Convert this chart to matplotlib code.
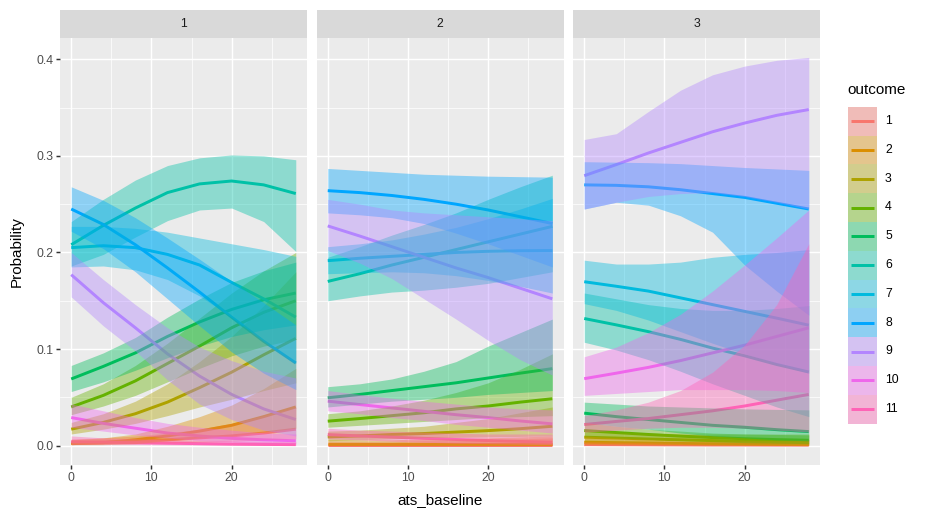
import matplotlib
matplotlib.use("Agg")
import matplotlib.pyplot as plt
from matplotlib.patches import Rectangle

plt.rcParams['font.family'] = ['Liberation Sans', 'DejaVu Sans']

# ---------------- data ----------------
ats_baseline = [0, 4, 8, 12, 16, 20, 24, 28]
outcomes = ['1', '2', '3', '4', '5', '6', '7', '8', '9', '10', '11']
outcome_colors = ['#F8766D', '#DB8E00', '#AEA200', '#64B200', '#00BD5C', '#00C1A7',
                  '#00BADE', '#00A6FF', '#B385FF', '#EF67EB', '#FF63B6']
panel_labels = ['1', '2', '3']

# panel 1
p1_fit = [
    [0.003, 0.0035, 0.0045, 0.006, 0.008, 0.010, 0.013, 0.017],
    [0.002, 0.003, 0.006, 0.010, 0.015, 0.021, 0.030, 0.040],
    [0.017, 0.024, 0.033, 0.045, 0.060, 0.076, 0.094, 0.111],
    [0.040, 0.052, 0.067, 0.085, 0.103, 0.122, 0.138, 0.150],
    [0.069, 0.082, 0.096, 0.113, 0.128, 0.141, 0.151, 0.158],
    [0.208, 0.228, 0.246, 0.262, 0.271, 0.274, 0.270, 0.261],
    [0.205, 0.207, 0.205, 0.198, 0.187, 0.169, 0.152, 0.133],
    [0.245, 0.229, 0.208, 0.184, 0.159, 0.133, 0.108, 0.0855],
    [0.177, 0.148, 0.122, 0.095, 0.072, 0.053, 0.038, 0.027],
    [0.029, 0.023, 0.018, 0.013, 0.010, 0.0075, 0.006, 0.005],
    [0.004, 0.0035, 0.003, 0.0025, 0.002, 0.0015, 0.0012, 0.001],
]
p1_lower = [
    [0.001, 0.0015, 0.002, 0.0025, 0.0035, 0.0045, 0.006, 0.007],
    [0.001, 0.001, 0.002, 0.005, 0.008, 0.010, 0.014, 0.018],
    [0.012, 0.017, 0.023, 0.031, 0.040, 0.048, 0.057, 0.065],
    [0.032, 0.041, 0.052, 0.066, 0.080, 0.093, 0.103, 0.110],
    [0.056, 0.066, 0.078, 0.091, 0.103, 0.113, 0.120, 0.125],
    [0.186, 0.198, 0.216, 0.233, 0.244, 0.246, 0.232, 0.201],
    [0.185, 0.186, 0.182, 0.172, 0.155, 0.133, 0.108, 0.085],
    [0.222, 0.204, 0.180, 0.152, 0.124, 0.097, 0.075, 0.058],
    [0.154, 0.124, 0.098, 0.068, 0.043, 0.027, 0.016, 0.010],
    [0.019, 0.015, 0.011, 0.008, 0.005, 0.0035, 0.0025, 0.002],
    [0.001, 0.001, 0.001, 0.0008, 0.0006, 0.0005, 0.0004, 0.0003],
]
p1_upper = [
    [0.007, 0.008, 0.010, 0.013, 0.017, 0.023, 0.031, 0.040],
    [0.006, 0.008, 0.012, 0.020, 0.030, 0.042, 0.059, 0.080],
    [0.024, 0.033, 0.046, 0.064, 0.087, 0.113, 0.145, 0.180],
    [0.050, 0.064, 0.083, 0.106, 0.132, 0.158, 0.181, 0.200],
    [0.083, 0.096, 0.112, 0.133, 0.152, 0.169, 0.181, 0.190],
    [0.232, 0.255, 0.275, 0.290, 0.298, 0.301, 0.300, 0.296],
    [0.227, 0.227, 0.225, 0.221, 0.215, 0.209, 0.203, 0.196],
    [0.268, 0.254, 0.236, 0.215, 0.193, 0.170, 0.148, 0.125],
    [0.200, 0.172, 0.146, 0.122, 0.102, 0.088, 0.077, 0.070],
    [0.043, 0.036, 0.029, 0.023, 0.019, 0.016, 0.013, 0.012],
    [0.010, 0.008, 0.007, 0.006, 0.005, 0.005, 0.0045, 0.004],
]

# panel 2
p2_fit = [
    [0.001, 0.001, 0.001, 0.001, 0.001, 0.001, 0.001, 0.001],
    [0.002, 0.002, 0.002, 0.002, 0.002, 0.002, 0.002, 0.002],
    [0.009, 0.010, 0.0115, 0.0125, 0.014, 0.0155, 0.0175, 0.020],
    [0.0253, 0.028, 0.031, 0.034, 0.038, 0.041, 0.045, 0.0485],
    [0.0495, 0.053, 0.057, 0.061, 0.065, 0.070, 0.075, 0.0797],
    [0.170, 0.178, 0.187, 0.195, 0.203, 0.211, 0.219, 0.227],
    [0.1915, 0.194, 0.196, 0.198, 0.200, 0.2012, 0.2018, 0.202],
    [0.264, 0.262, 0.259, 0.255, 0.250, 0.244, 0.237, 0.230],
    [0.2275, 0.217, 0.206, 0.195, 0.184, 0.174, 0.163, 0.152],
    [0.046, 0.0425, 0.039, 0.0355, 0.032, 0.029, 0.0255, 0.0225],
    [0.0114, 0.010, 0.0088, 0.0075, 0.0063, 0.0052, 0.0043, 0.0035],
]
p2_lower = [
    [0.0003, 0.0003, 0.0003, 0.0003, 0.0003, 0.0003, 0.0003, 0.0003],
    [0.0005, 0.0005, 0.0005, 0.0005, 0.0005, 0.0005, 0.0005, 0.0005],
    [0.005, 0.006, 0.007, 0.008, 0.0085, 0.009, 0.0095, 0.010],
    [0.019, 0.021, 0.023, 0.025, 0.027, 0.029, 0.030, 0.031],
    [0.040, 0.043, 0.046, 0.048, 0.050, 0.053, 0.055, 0.057],
    [0.150, 0.155, 0.159, 0.161, 0.164, 0.168, 0.174, 0.180],
    [0.178, 0.179, 0.180, 0.179, 0.176, 0.171, 0.165, 0.158],
    [0.241, 0.239, 0.236, 0.230, 0.220, 0.209, 0.197, 0.185],
    [0.202, 0.189, 0.173, 0.152, 0.131, 0.109, 0.089, 0.073],
    [0.036, 0.033, 0.029, 0.026, 0.022, 0.019, 0.016, 0.013],
    [0.007, 0.006, 0.0045, 0.0035, 0.0025, 0.002, 0.0015, 0.001],
]
p2_upper = [
    [0.004, 0.004, 0.004, 0.005, 0.005, 0.006, 0.007, 0.008],
    [0.006, 0.006, 0.006, 0.007, 0.007, 0.008, 0.009, 0.010],
    [0.015, 0.016, 0.018, 0.020, 0.024, 0.028, 0.034, 0.040],
    [0.033, 0.036, 0.041, 0.047, 0.055, 0.065, 0.079, 0.095],
    [0.061, 0.064, 0.069, 0.077, 0.087, 0.103, 0.117, 0.131],
    [0.195, 0.206, 0.218, 0.229, 0.241, 0.255, 0.268, 0.280],
    [0.206, 0.209, 0.213, 0.219, 0.226, 0.235, 0.245, 0.256],
    [0.287, 0.285, 0.283, 0.281, 0.280, 0.279, 0.2785, 0.278],
    [0.255, 0.250, 0.244, 0.241, 0.239, 0.237, 0.235, 0.233],
    [0.057, 0.053, 0.049, 0.046, 0.043, 0.040, 0.038, 0.037],
    [0.018, 0.016, 0.015, 0.014, 0.013, 0.012, 0.012, 0.012],
]

# panel 3
p3_fit = [
    [0.001, 0.0009, 0.0008, 0.0007, 0.0006, 0.0006, 0.0005, 0.0005],
    [0.0035, 0.003, 0.0026, 0.0022, 0.0018, 0.0015, 0.0012, 0.001],
    [0.0087, 0.0078, 0.0068, 0.006, 0.0052, 0.0045, 0.004, 0.0035],
    [0.0156, 0.0135, 0.0115, 0.0098, 0.0083, 0.0071, 0.0062, 0.0055],
    [0.0336, 0.030, 0.027, 0.024, 0.021, 0.019, 0.0165, 0.0145],
    [0.1316, 0.125, 0.118, 0.110, 0.101, 0.093, 0.084, 0.0762],
    [0.1697, 0.165, 0.160, 0.153, 0.146, 0.139, 0.132, 0.1247],
    [0.270, 0.2695, 0.268, 0.265, 0.261, 0.257, 0.251, 0.245],
    [0.2795, 0.291, 0.303, 0.314, 0.325, 0.334, 0.342, 0.348],
    [0.0693, 0.075, 0.081, 0.088, 0.096, 0.104, 0.113, 0.122],
    [0.0218, 0.025, 0.028, 0.032, 0.036, 0.041, 0.047, 0.053],
]
p3_lower = [
    [0.0002, 0.0002, 0.0002, 0.0001, 0.0001, 0.0001, 0.0001, 0.0001],
    [0.001, 0.0009, 0.0007, 0.0005, 0.0004, 0.0003, 0.0002, 0.0002],
    [0.004, 0.0035, 0.003, 0.0022, 0.0016, 0.0012, 0.001, 0.0008],
    [0.010, 0.008, 0.0065, 0.005, 0.004, 0.003, 0.0025, 0.002],
    [0.024, 0.020, 0.017, 0.013, 0.010, 0.008, 0.006, 0.005],
    [0.107, 0.099, 0.089, 0.077, 0.064, 0.052, 0.040, 0.030],
    [0.147, 0.140, 0.130, 0.118, 0.106, 0.095, 0.085, 0.075],
    [0.245, 0.252, 0.249, 0.238, 0.221, 0.187, 0.160, 0.135],
    [0.245, 0.252, 0.258, 0.261, 0.262, 0.258, 0.252, 0.245],
    [0.052, 0.054, 0.056, 0.058, 0.058, 0.058, 0.057, 0.055],
    [0.014, 0.016, 0.018, 0.019, 0.019, 0.018, 0.016, 0.014],
]
p3_upper = [
    [0.004, 0.004, 0.004, 0.004, 0.004, 0.005, 0.005, 0.006],
    [0.008, 0.007, 0.006, 0.005, 0.005, 0.005, 0.0055, 0.006],
    [0.016, 0.014, 0.013, 0.012, 0.012, 0.012, 0.012, 0.012],
    [0.024, 0.020, 0.017, 0.015, 0.013, 0.012, 0.0115, 0.011],
    [0.045, 0.043, 0.041, 0.040, 0.039, 0.038, 0.0375, 0.037],
    [0.158, 0.152, 0.146, 0.142, 0.140, 0.140, 0.142, 0.145],
    [0.192, 0.188, 0.188, 0.190, 0.195, 0.198, 0.200, 0.203],
    [0.294, 0.2935, 0.293, 0.292, 0.290, 0.288, 0.2865, 0.285],
    [0.317, 0.323, 0.346, 0.368, 0.384, 0.393, 0.399, 0.402],
    [0.092, 0.102, 0.117, 0.136, 0.160, 0.187, 0.215, 0.244],
    [0.031, 0.037, 0.045, 0.057, 0.076, 0.104, 0.146, 0.209],
]

x_breaks = [0, 10, 20]
x_minor = [5, 15, 25]
y_breaks = [0.0, 0.1, 0.2, 0.3, 0.4]
y_minor = [0.05, 0.15, 0.25, 0.35]
y_tick_labels = ['0.0', '0.1', '0.2', '0.3', '0.4']
x_label = 'ats_baseline'
y_label = 'Probability'
legend_title = 'outcome'

# ---------------- layout ----------------
W, H = 935, 520
fig = plt.figure(figsize=(W / 100, H / 100), dpi=100)
fig.patch.set_facecolor('white')


def fax(l, t, w, h):
    return fig.add_axes([l / W, 1 - (t + h) / H, w / W, h / H])


panel_left = [60, 316.5, 573]
pw, ptop, ph = 247, 38, 427
strip_top, strip_h = 10, 28

fits = [p1_fit, p2_fit, p3_fit]
lowers = [p1_lower, p2_lower, p3_lower]
uppers = [p1_upper, p2_upper, p3_upper]

xmin, xmax = min(ats_baseline), max(ats_baseline)
xpad = (xmax - xmin) * 0.05
ymax_data = max(max(max(r) for r in u) for u in uppers)
ymin_data = 0.0
ypad = (ymax_data - ymin_data) * 0.05

for i, lab in enumerate(panel_labels):
    ax = fax(panel_left[i], ptop, pw, ph)
    ax.set_facecolor('#EBEBEB')
    ax.set_xlim(xmin - xpad, xmax + xpad)
    ax.set_ylim(ymin_data - ypad, ymax_data + ypad)
    for s in ax.spines.values():
        s.set_visible(False)
    ax.set_xticks(x_breaks)
    ax.set_xticks(x_minor, minor=True)
    ax.set_yticks(y_breaks)
    ax.set_yticks(y_minor, minor=True)
    ax.grid(which='major', color='white', linewidth=1.07)
    ax.grid(which='minor', color='white', linewidth=0.53)
    ax.set_axisbelow(True)
    ax.tick_params(which='minor', length=0)
    ax.tick_params(which='major', length=2.75, width=1.07, color='#333333',
                   labelsize=8.8, labelcolor='#4D4D4D', pad=2.2)
    if i == 0:
        ax.set_yticklabels(y_tick_labels)
    else:
        ax.tick_params(axis='y', which='both', left=False, labelleft=False)

    # lines first, ribbons drawn on top (as in the reference)
    for k in range(len(outcomes)):
        ax.plot(ats_baseline, fits[i][k], color=outcome_colors[k], lw=2.13,
                zorder=2, solid_capstyle='butt', solid_joinstyle='round')
    for k in range(len(outcomes)):
        ax.fill_between(ats_baseline, lowers[i][k], uppers[i][k],
                        color=outcome_colors[k], alpha=0.4, linewidth=0, zorder=3)

    # strip
    sax = fax(panel_left[i], strip_top, pw, strip_h)
    sax.set_facecolor('#D9D9D9')
    sax.set_xticks([])
    sax.set_yticks([])
    for s in sax.spines.values():
        s.set_visible(False)
    sax.text(0.5, 0.5, lab, ha='center', va='center', fontsize=8.8,
             color='#1A1A1A', transform=sax.transAxes)

# axis titles
fig.text((panel_left[0] + panel_left[2] + pw) / 2 / W, 1 - 500 / H, x_label,
         ha='center', va='center', fontsize=11, color='black')
fig.text(17 / W, 1 - (ptop + ph / 2) / H, y_label, ha='center', va='center',
         rotation=90, fontsize=11, color='black')

# legend
key_l, key_t, key_w, key_h = 847.7, 106.7, 29, 28.8
fig.text(key_l / W, 1 - 90 / H, legend_title, ha='left', va='center',
         fontsize=11, color='black')
lax = fax(key_l, key_t, key_w, key_h * len(outcomes))
lax.set_xlim(0, 1)
lax.set_ylim(len(outcomes), 0)
lax.axis('off')
for k, o in enumerate(outcomes):
    lax.add_patch(Rectangle((0, k), 1, 1, facecolor='#EBEBEB', edgecolor='none', zorder=1))
    lax.add_patch(Rectangle((0, k), 1, 1, facecolor=outcome_colors[k], alpha=0.4,
                            edgecolor='none', zorder=2))
    lax.plot([0.1, 0.9], [k + 0.5, k + 0.5], color=outcome_colors[k], lw=2.13,
             zorder=3, solid_capstyle='butt')
    fig.text(885 / W, 1 - (key_t + key_h * (k + 0.5)) / H, o, ha='left',
             va='center', fontsize=8.8, color='black')

fig.savefig('out.png', dpi=100)
